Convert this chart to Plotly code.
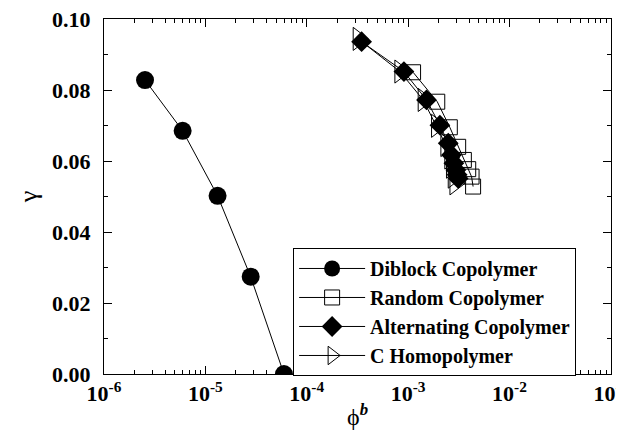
import plotly.graph_objects as go

# Data
diblock_x = [2.54e-6, 5.97e-6, 1.32e-5, 2.80e-5, 5.96e-5]
diblock_y = [0.0828, 0.0685, 0.0502, 0.0274, 0.0000]

random_x = [1.12e-3, 1.94e-3, 2.58e-3, 3.12e-3, 3.55e-3, 3.92e-3, 4.23e-3, 4.38e-3]
random_y = [0.0850, 0.0767, 0.0695, 0.0640, 0.0603, 0.0577, 0.0556, 0.0528]

alt_x = [3.48e-4, 9.1e-4, 1.52e-3, 2.06e-3, 2.49e-3, 2.68e-3, 2.83e-3, 2.96e-3, 3.05e-3, 3.12e-3]
alt_y = [0.0936, 0.0852, 0.0772, 0.0701, 0.0650, 0.0617, 0.0594, 0.0575, 0.0561, 0.0551]

homo_x = [3.22e-4, 8.3e-4, 1.41e-3, 1.91e-3, 2.36e-3, 2.58e-3, 2.68e-3, 2.79e-3, 2.90e-3]
homo_y = [0.0944, 0.0852, 0.0772, 0.0699, 0.0645, 0.0610, 0.0584, 0.0556, 0.0537]

x_tickvals = [1e-6, 1e-5, 1e-4, 1e-3, 1e-2, 1e-1]
x_ticktext = ["<b>10<sup>-6</sup></b>", "<b>10<sup>-5</sup></b>", "<b>10<sup>-4</sup></b>",
              "<b>10<sup>-3</sup></b>", "<b>10<sup>-2</sup></b>", "<b>10<sup>-1</sup></b>"]
y_tickvals = [0.00, 0.02, 0.04, 0.06, 0.08, 0.10]
y_ticktext = ["<b>0.00</b>", "<b>0.02</b>", "<b>0.04</b>", "<b>0.06</b>", "<b>0.08</b>", "<b>0.10</b>"]

minor_x = [m * 10.0 ** e for e in range(-6, -1) for m in range(2, 10)]

font_family = "Liberation Serif"
line = dict(color="black", width=1)

fig = go.Figure()
fig.add_trace(go.Scatter(x=diblock_x, y=diblock_y, mode="lines+markers",
                         name="<b>Diblock Copolymer</b>", line=line,
                         marker=dict(symbol="circle", size=18, color="black")))
fig.add_trace(go.Scatter(x=random_x, y=random_y, mode="lines+markers",
                         name="<b>Random Copolymer</b>", line=line,
                         marker=dict(symbol="square-open", size=15, color="black",
                                     line=dict(width=1))))
fig.add_trace(go.Scatter(x=alt_x, y=alt_y, mode="lines+markers",
                         name="<b>Alternating Copolymer</b>", line=line,
                         marker=dict(symbol="diamond", size=16, color="black")))
fig.add_trace(go.Scatter(x=homo_x, y=homo_y, mode="lines+markers",
                         name="<b>C Homopolymer</b>", line=line,
                         marker=dict(symbol="triangle-right-open", size=20, color="black",
                                     line=dict(width=1))))

fig.update_layout(
    width=616, height=424,
    margin=dict(l=96, r=13, t=11, b=58, autoexpand=False),
    paper_bgcolor="white", plot_bgcolor="white",
    font=dict(family=font_family, color="black", size=18),
    showlegend=True,
    legend=dict(x=0.373, y=0.355, xanchor="left", yanchor="top",
                bordercolor="black", borderwidth=1, bgcolor="white",
                font=dict(family=font_family, size=20, color="black"),
                tracegroupgap=0, itemsizing="trace", itemwidth=66),
)
fig.update_xaxes(
    type="log", range=[-6, -0.998], automargin=False,
    tickvals=x_tickvals, ticktext=x_ticktext,
    tickfont=dict(family=font_family, size=22),
    ticklabeloverflow="allow",
    ticks="inside", ticklen=8, tickcolor="black",
    minor=dict(tickvals=minor_x, ticks="inside", ticklen=4, tickcolor="black", showgrid=False),
    showline=True, linecolor="black", linewidth=1, mirror="allticks",
    showgrid=False, zeroline=False,
    title=dict(text="\u03d5<sup><i><b>b</b></i></sup>", font=dict(family=font_family, size=24), standoff=2),
)
fig.update_yaxes(
    range=[0, 0.1], automargin=False,
    tickvals=y_tickvals, ticktext=y_ticktext,
    tickfont=dict(family=font_family, size=22),
    ticklabeloverflow="allow", ticklabelstandoff=8,
    ticks="inside", ticklen=8, tickcolor="black",
    minor=dict(dtick=0.01, ticks="inside", ticklen=4, tickcolor="black", showgrid=False),
    showline=True, linecolor="black", linewidth=1, mirror="allticks",
    showgrid=False, zeroline=False,
    title=dict(text="\u03b3", font=dict(family=font_family, size=26), standoff=6),
)

fig.write_html("out.html")
